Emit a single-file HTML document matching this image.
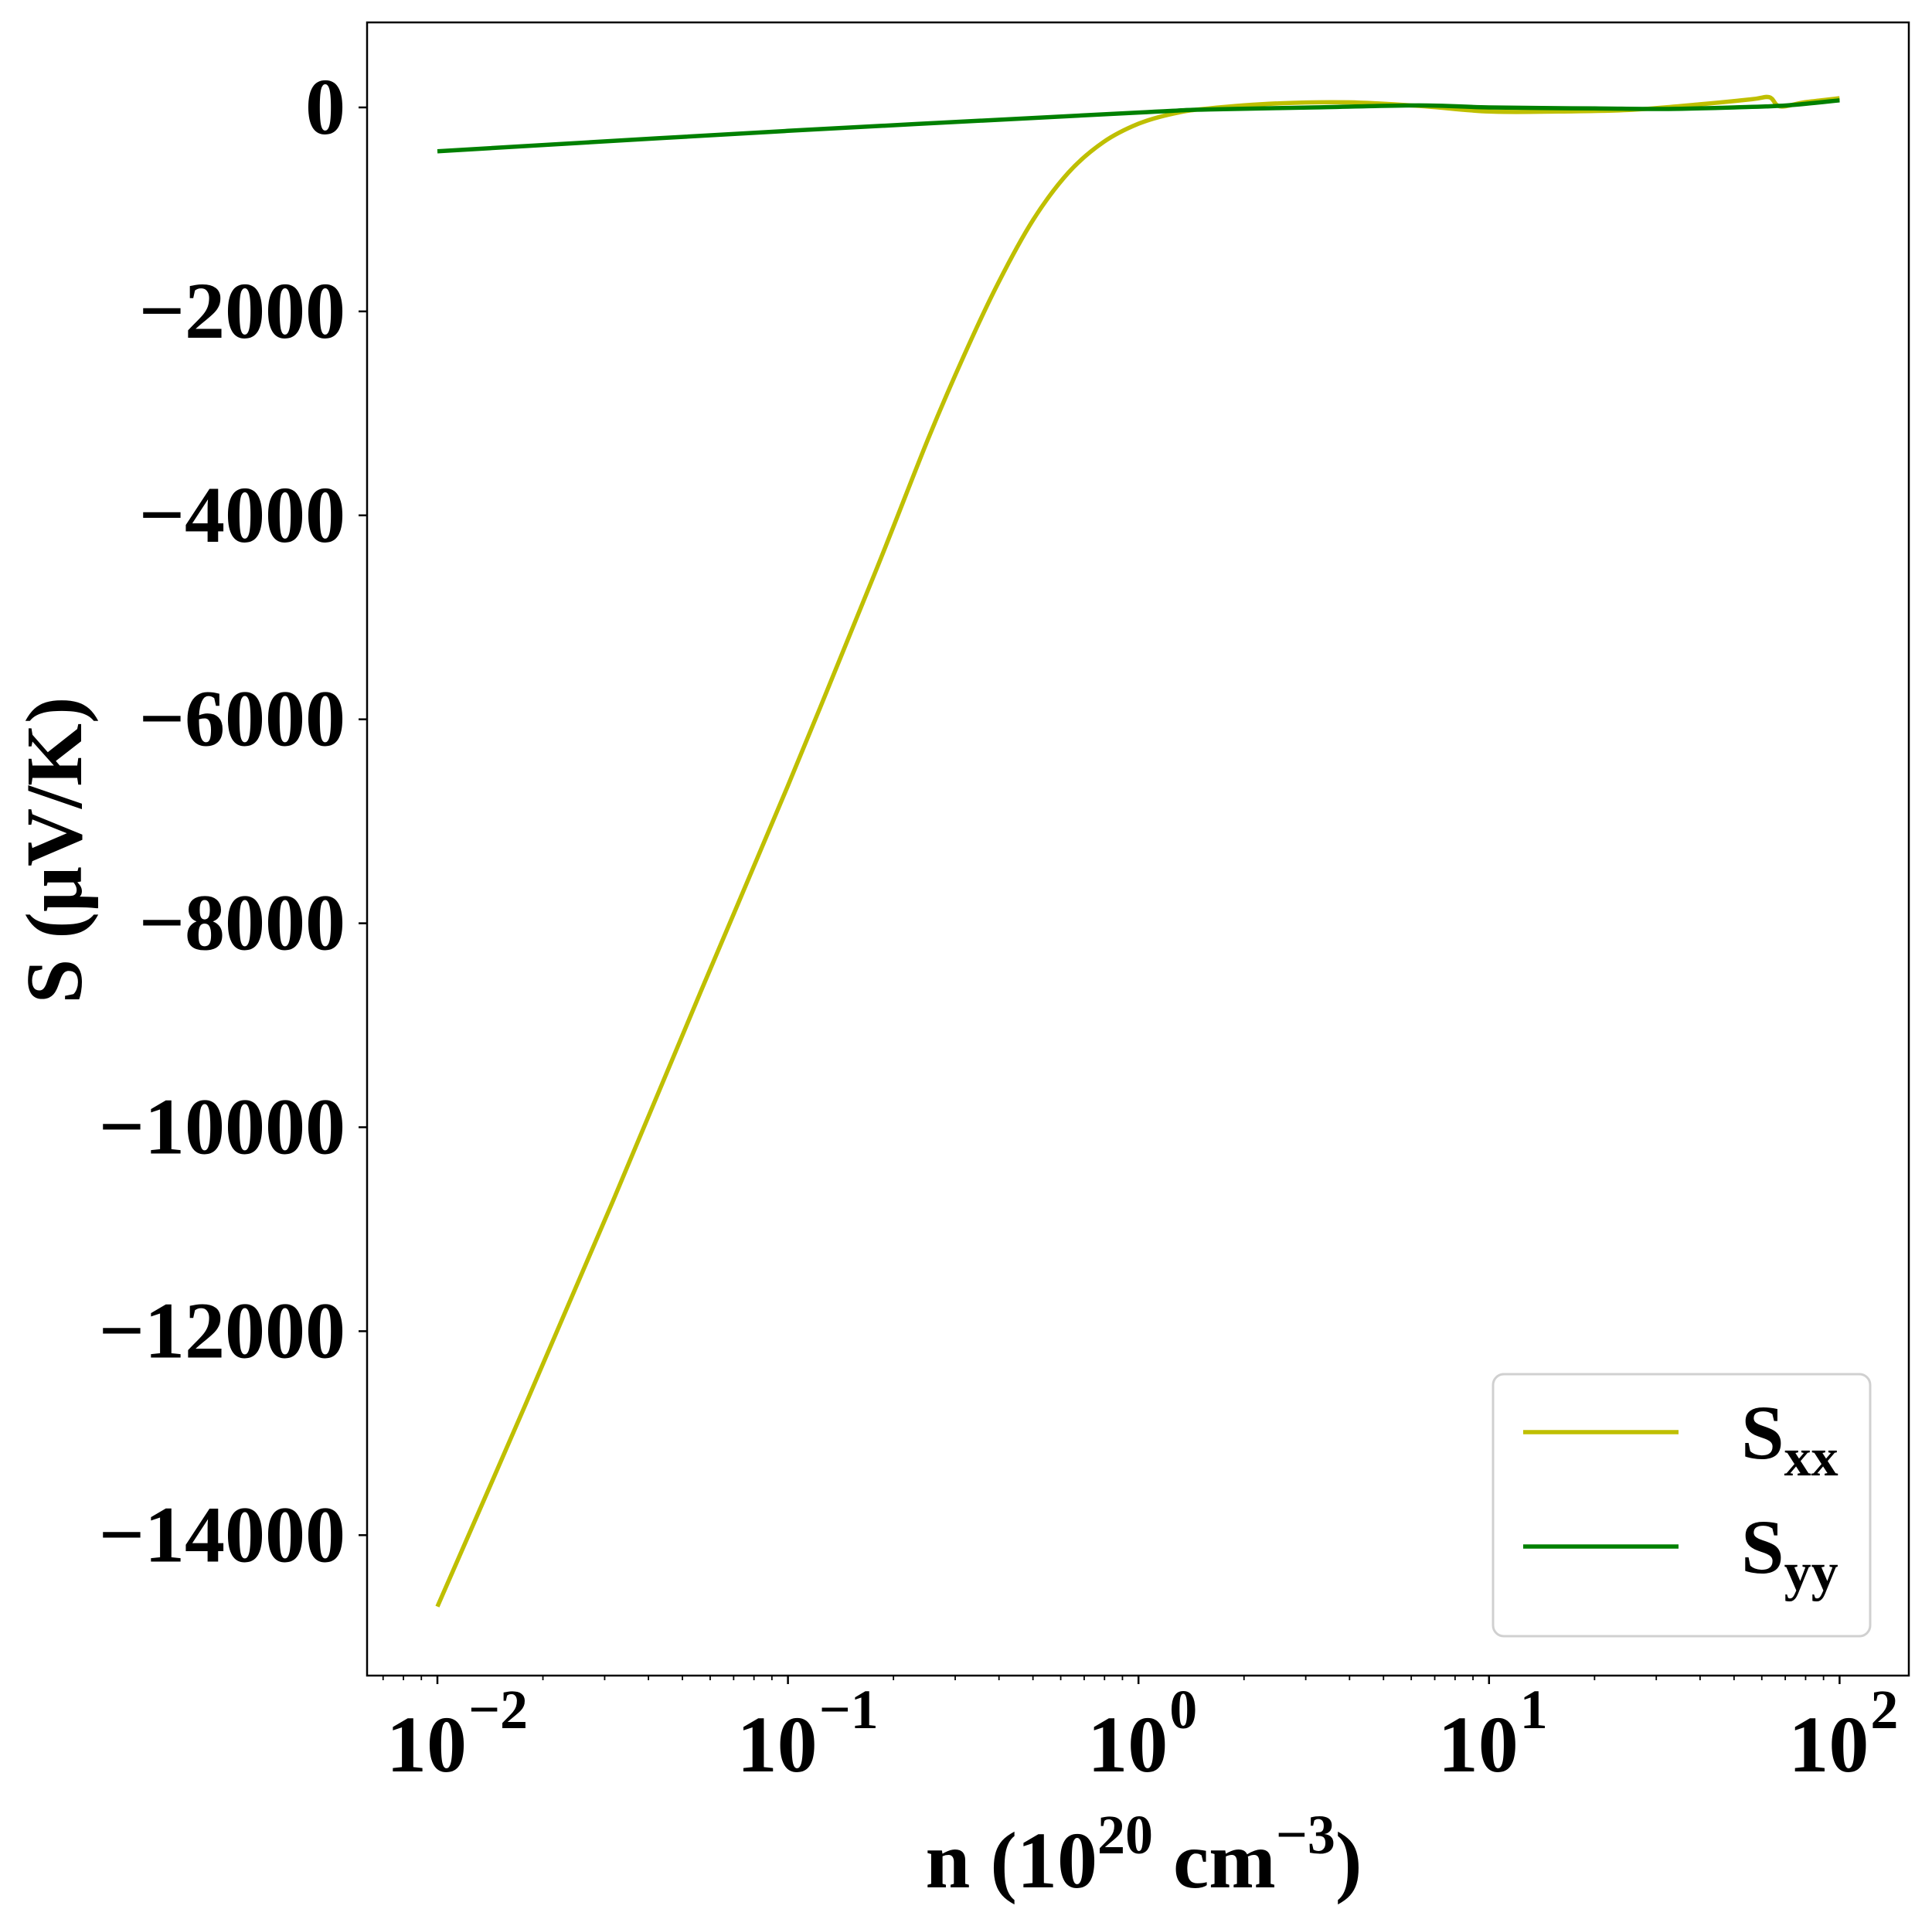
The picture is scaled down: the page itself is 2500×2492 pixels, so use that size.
<!DOCTYPE html>
<html><head><meta charset="utf-8"><style>
html,body{margin:0;padding:0;background:#fff}
svg{display:block}
text{font-family:"Liberation Serif","Times New Roman",serif;font-weight:bold;fill:#000}
</style></head><body>
<svg id="chart" width="2500" height="2492" viewBox="0 0 2500 2492" xmlns="http://www.w3.org/2000/svg">
<rect x="0" y="0" width="2500" height="2492" fill="#fff"/>
<g id="plot"></g>
<g id="axes"></g>
</svg>
<script>
const sxxLogN = [-2.0,-1.75,-1.5,-1.25,-1.0,-0.75,-0.6,-0.5,-0.4,-0.3,-0.2,-0.1,0.0,0.1,0.2,0.4,0.6,0.8,1.0,1.2,1.4,1.6,1.75,1.8,1.83,1.9,2.0];
const sxxValues = [-14700,-12730,-10730,-8680,-6650,-4550,-3250,-2450,-1720,-1100,-640,-340,-160,-60,-10,40,50,15,-40,-40,-25,30,80,100,10,50,90];
const syyLogN = [-2.0,-1.0,0.0,0.2,0.5,0.8,1.0,1.3,1.5,1.7,1.85,2.0];
const syyValues = [-430,-230,-50,-20,0,20,0,-10,-15,0,20,70];
const yTicks = [0,-2000,-4000,-6000,-8000,-10000,-12000,-14000];
const yTickLabels = ["0","\u22122000","\u22124000","\u22126000","\u22128000","\u221210000","\u221212000","\u221214000"];
const xDecades = [-2,-1,0,1,2];
const xTickExponents = ["\u22122","\u22121","0","1","2"];

const L=475,R=2470,T=29,B=2168;
const X0=566, DEC=453.6;
const Y0=139, PER=263.9/2000;
function xs(lg){return X0+(lg+2)*DEC;}
function ys(v){return Y0-v*PER;}
const NS="http://www.w3.org/2000/svg";
const plot=document.getElementById('plot'), axes=document.getElementById('axes');
function mk(tag,attrs,parent){const e=document.createElementNS(NS,tag);for(const k in attrs)e.setAttribute(k,attrs[k]);parent.appendChild(e);return e;}

function drawLine(lx,vals,color,name){
  const P=lx.map((l,i)=>[xs(l),ys(vals[i])]);
  let d='M'+P[0][0].toFixed(1)+' '+P[0][1].toFixed(1);
  for(let i=0;i<P.length-1;i++){
    const p0=P[Math.max(0,i-1)],p1=P[i],p2=P[i+1],p3=P[Math.min(P.length-1,i+2)];
    const c1=[p1[0]+(p2[0]-p0[0])/6,p1[1]+(p2[1]-p0[1])/6];
    const c2=[p2[0]-(p3[0]-p1[0])/6,p2[1]-(p3[1]-p1[1])/6];
    d+='C'+c1[0].toFixed(1)+' '+c1[1].toFixed(1)+' '+c2[0].toFixed(1)+' '+c2[1].toFixed(1)+' '+p2[0].toFixed(1)+' '+p2[1].toFixed(1);
  }
  const p=mk('path',{d:d,fill:'none',stroke:color,'stroke-width':5.5,'stroke-linejoin':'round'},plot);
  
  
}
drawLine(sxxLogN,sxxValues,'#bfbf00','sxx-line');
drawLine(syyLogN,syyValues,'#008000','syy-line');

const fr=mk('rect',{x:L,y:T,width:R-L,height:B-T,fill:'none',stroke:'#000','stroke-width':2.5},axes);



for(let i=0;i<yTicks.length;i++){
  const y=ys(yTicks[i]);
  mk('line',{x1:L-11,x2:L,y1:y,y2:y,stroke:'#000','stroke-width':2.5},axes);
  const t=mk('text',{x:L-28,y:y+34,'text-anchor':'end','font-size':104},axes);
  t.textContent=yTickLabels[i];
  
  
}
for(let i=0;i<xDecades.length;i++){
  const x=xs(xDecades[i]);
  mk('line',{x1:x,x2:x,y1:B,y2:B+11,stroke:'#000','stroke-width':2.5},axes);
  const t=mk('text',{x:x-14,y:2292,'text-anchor':'middle','font-size':104},axes);
  t.textContent='10';
  
  
  const s=mk('text',{x:x+40,y:2236,'text-anchor':'start','font-size':72},axes);
  s.textContent=xTickExponents[i];
  
  
}
for(let d=-3;d<=2;d++){
  for(let m=2;m<=9;m++){
    const x=xs(d+Math.log10(m));
    if(x<L||x>R)continue;
    mk('line',{x1:x,x2:x,y1:B,y2:B+6,stroke:'#000','stroke-width':1.8},axes);
  }
}
</script>
<svg style="position:absolute;left:0;top:0" width="2500" height="2492" xmlns="http://www.w3.org/2000/svg">
<text transform="translate(105,1100) rotate(-90)" text-anchor="middle" font-size="104" style="font-family:'Liberation Serif',serif;font-weight:bold">S (μV/K)</text>
<text x="1480" y="2442" text-anchor="middle" font-size="104" style="font-family:'Liberation Serif',serif;font-weight:bold">n (10<tspan dy="-44" font-size="72">20</tspan><tspan dy="44"> cm</tspan><tspan dy="-44" font-size="72">−3</tspan><tspan dy="44">)</tspan></text>
<g>
<rect x="1932" y="1778" width="488" height="339" rx="14" fill="#fff" stroke="#d0d0d0" stroke-width="3"/>
<line x1="1971" x2="2172" y1="1853" y2="1853" stroke="#bfbf00" stroke-width="5.5"/>
<line x1="1971" x2="2172" y1="2001" y2="2001" stroke="#008000" stroke-width="5.5"/>
<text x="2253" y="1887" font-size="100" style="font-family:'Liberation Serif',serif;font-weight:bold">S<tspan dy="22" font-size="70">xx</tspan></text>
<text x="2253" y="2035" font-size="100" style="font-family:'Liberation Serif',serif;font-weight:bold">S<tspan dy="22" font-size="70">yy</tspan></text>
</g>
</svg>
</body></html>
